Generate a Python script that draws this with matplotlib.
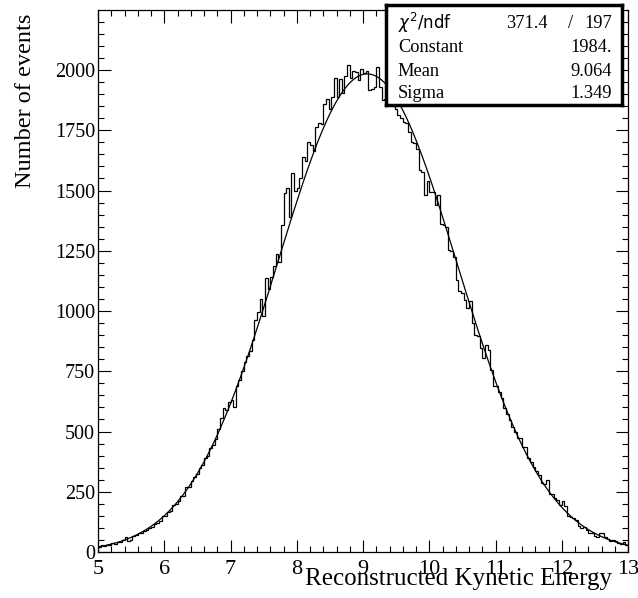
import numpy as np
import matplotlib.pyplot as plt
from matplotlib.ticker import MultipleLocator

plt.rcParams['font.family'] = 'Liberation Serif'

# histogram: 200 bins between 5 and 13
x_lo, x_hi = 5.0, 13.0
counts = [
    20, 27, 25, 30, 28,
    36, 35, 42, 41, 50,
    62, 46, 48, 68, 70,
    78, 80, 86, 92, 99,
    104, 116, 122, 127, 148,
    150, 166, 171, 195, 199,
    210, 234, 232, 271, 268,
    296, 310, 322, 348, 362,
    390, 398, 432, 444, 470,
    510, 555, 598, 588, 622,
    632, 602, 690, 715, 752,
    790, 812, 832, 880, 962,
    995, 1050, 978, 1135, 1092,
    1140, 1185, 1235, 1205, 1355,
    1490, 1512, 1392, 1572, 1500,
    1512, 1552, 1638, 1622, 1700,
    1690, 1665, 1765, 1780, 1778,
    1860, 1880, 1840, 1890, 1965,
    1890, 1962, 1905, 1975, 2022,
    1965, 1995, 1990, 1960, 2005,
    1988, 1995, 1918, 1922, 1930,
    2012, 1930, 1876, 1880, 1912,
    1880, 1850, 1840, 1812, 1800,
    1785, 1780, 1742, 1700, 1698,
    1672, 1585, 1578, 1482, 1538,
    1495, 1492, 1440, 1480, 1362,
    1355, 1350, 1255, 1250, 1225,
    1130, 1082, 1075, 1045, 1012,
    1042, 950, 902, 895, 848,
    805, 860, 840, 756, 690,
    690, 665, 640, 598, 572,
    548, 520, 496, 475, 472,
    436, 435, 392, 372, 352,
    335, 318, 288, 282, 298,
    242, 240, 226, 215, 196,
    212, 190, 148, 145, 142,
    134, 106, 98, 104, 90,
    80, 79, 65, 63, 80,
    78, 62, 56, 46, 50,
    44, 39, 35, 41, 30,
]

# gaussian fit results
fit_const = 1984.
fit_mean = 9.064
fit_sigma = 1.349
chi2 = 371.4
ndf = 197

edges = np.linspace(x_lo, x_hi, len(counts) + 1)

fig = plt.figure(figsize=(6.38, 5.98), dpi=100)
ax = fig.add_axes([98/638, 46/598, 530/638, 542/598])

ax.stairs(counts, edges, color='black', lw=0.9)
xf = np.linspace(x_lo, x_hi, 500)
yf = fit_const * np.exp(-0.5 * ((xf - fit_mean) / fit_sigma) ** 2)
ax.plot(xf, yf, color='black', lw=0.9)

ax.set_xlim(x_lo, x_hi)
ax.set_ylim(0, 2249)
ax.xaxis.set_major_locator(MultipleLocator(1))
ax.xaxis.set_minor_locator(MultipleLocator(0.2))
ax.yaxis.set_major_locator(MultipleLocator(250))
ax.yaxis.set_minor_locator(MultipleLocator(50))
ax.tick_params(which='both', direction='in', top=True, right=True, width=0.8)
ax.tick_params(which='major', length=9)
ax.tick_params(which='minor', length=4.5)
ax.tick_params(axis='x', pad=6, labelsize=16)
ax.tick_params(axis='y', pad=2, labelsize=14.5)
for s in ax.spines.values():
    s.set_linewidth(0.9)

fig.text(612/638, 19/598, 'Reconstructed Kynetic Energy', ha='right', va='center', fontsize=18)
fig.text(26/638, 1 - 14/598, 'Number of events', rotation=90, ha='center', va='top', fontsize=17.5)

# stats box
bx = fig.add_axes([386/638, (598-105)/598, 236/638, 100/598])
bx.set_facecolor('white')
bx.set_xticks([])
bx.set_yticks([])
for s in bx.spines.values():
    s.set_linewidth(2.5)
fs = 13.2
rows = [0.82, 0.57, 0.33, 0.11]
bx.text(0.05, rows[0], r'$\chi^2$/ndf', family='DejaVu Sans', fontsize=12, va='center')
bx.text(0.686, rows[0], '%.1f' % chi2, ha='right', va='center', fontsize=fs)
bx.text(0.78, rows[0], '/', ha='center', va='center', fontsize=fs)
bx.text(0.958, rows[0], '%d' % ndf, ha='right', va='center', fontsize=fs)
bx.text(0.05, rows[1], 'Constant', va='center', fontsize=fs)
bx.text(0.958, rows[1], '%.0f.' % fit_const, ha='right', va='center', fontsize=fs)
bx.text(0.05, rows[2], 'Mean', va='center', fontsize=fs)
bx.text(0.958, rows[2], '%.3f' % fit_mean, ha='right', va='center', fontsize=fs)
bx.text(0.05, rows[3], 'Sigma', va='center', fontsize=fs)
bx.text(0.958, rows[3], '%.3f' % fit_sigma, ha='right', va='center', fontsize=fs)

plt.savefig('out.png', dpi=100)
